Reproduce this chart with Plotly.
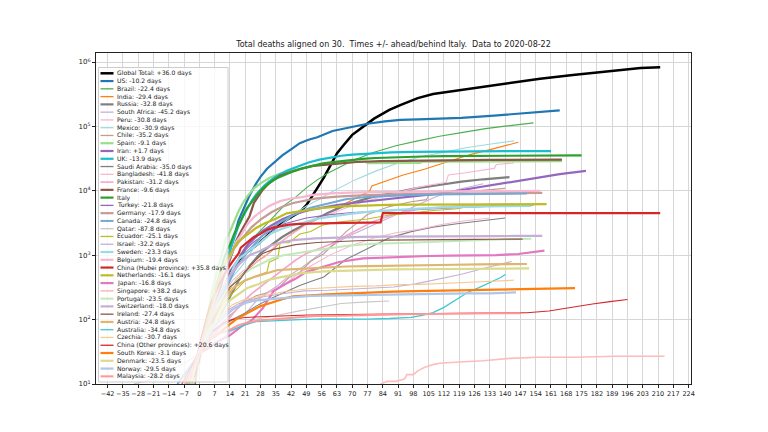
import plotly.graph_objects as go

# ---- data: (days since reaching 30 deaths, cumulative deaths) ----
GLOBAL = [(-3,12),(0,30),(5,100),(10,250),(15,600),(20,1000),(27,1500),(33,2300),(38,3200),(42,3900),(46,4700),(49,6000),(52,8500),(54,11000),(57,16000),(59,21000),(61,28000),(63,38000),(66,51000),(68,62000),(70,74000),(73,88000),(77,112000),(80,132000),(83,151000),(87,180000),(92,214000),(96,245000),(100,275000),(107,318000),(115,347000),(125,385000),(141,468000),(156,550000),(171,630000),(187,724000),(202,805000),(211,830000)]
US = [(-6,11),(-2,21),(0,30),(2,45),(5,80),(7,140),(9,260),(11,500),(13,900),(16,2000),(18,3500),(20,5000),(23,8500),(26,13000),(28,16500),(31,22000),(34,27000),(38,35500),(42,44000),(46,55000),(50,62000),(54,68000),(61,85000),(68,95000),(72,100000),(77,110000),(85,120000),(92,126000),(100,129000),(110,131000),(120,136000),(135,147000),(150,160000),(165,178000)]
BRAZIL = [(-2,11),(-1,15),(0,25),(1,34),(3,59),(6,114),(9,201),(14,486),(19,1057),(24,1760),(29,2600),(34,4000),(39,6000),(44,7900),(49,11100),(54,14800),(59,18900),(64,23000),(70,29300),(80,39700),(90,50000),(100,59600),(110,70400),(120,80100),(131,92500),(141,101800),(153,113400)]
INDIA = [(-5,10),(-2,20),(0,30),(4,56),(7,109),(12,239),(17,420),(22,590),(27,826),(32,1075),(37,1568),(42,2109),(47,2752),(52,3435),(57,4167),(63,5394),(68,6642),(73,8102),(78,9900),(79,11903),(80,12237),(83,13254),(93,17400),(103,21600),(113,27500),(124,36500),(134,44400),(146,56700)]
RUSSIA = [(-4,10),(-2,17),(0,30),(3,45),(8,94),(13,198),(18,405),(23,681),(28,1073),(33,1451),(38,1915),(43,2418),(48,2972),(53,3541),(59,4555),(69,6358),(79,7972),(89,9300),(99,10900),(109,12200),(120,13900),(130,15100),(142,16300)]
SAFRICA = [(-9,11),(-4,19),(0,30),(6,58),(11,88),(16,103),(21,123),(26,194),(31,261),(36,339),(41,481),(47,643),(57,1162),(67,1877),(77,2657),(87,3860),(97,5368),(108,8005),(118,10408),(130,12843)]
PERU = [(-4,11),(0,30),(5,83),(10,193),(15,400),(20,572),(25,728),(30,943),(35,1444),(40,1889),(45,2392),(50,3148),(55,3788),(61,4506),(71,6088),(81,7660),(91,9317),(101,11500),(111,13187),(113,13579),(114,17654),(122,19021),(132,21501),(135,22300),(136,25648),(144,27034)]
MEXICO = [(-4,10),(-1,28),(0,30),(5,94),(10,233),(15,449),(20,712),(25,1305),(30,1859),(35,2507),(40,3465),(45,4767),(50,6090),(55,7394),(61,9779),(71,14649),(81,20394),(91,27121),(101,33526),(111,39184),(122,46688),(132,52298),(144,59610)]
CHILE = [(-3,12),(-1,22),(0,30),(6,57),(11,94),(16,133),(21,189),(26,234),(31,260),(36,304),(41,450),(46,544),(51,806),(57,1054),(67,2283),(77,4295),(87,5688),(97,6781),(104,7290),(105,8503),(118,9457),(128,10077),(140,10916)]
SPAIN = [(-2,10),(-1,17),(0,28),(1,35),(3,84),(5,195),(6,288),(8,533),(10,1002),(12,1720),(14,2311),(16,3434),(18,4858),(20,6528),(22,8189),(25,10935),(28,13055),(32,15843),(37,18579),(42,20453),(47,22524),(52,24543),(62,26621),(72,27778),(76,28752),(77,26834),(101,27136),(102,28315),(120,28400),(140,28500),(166,28838)]
IRAN = [(-4,8),(-3,12),(-2,16),(-1,19),(0,26),(1,34),(3,54),(5,77),(7,107),(9,145),(11,237),(13,354),(15,514),(17,724),(19,988),(21,1284),(23,1556),(25,1812),(27,2077),(29,2378),(33,2898),(38,3603),(43,4232),(48,4777),(53,5209),(58,5650),(63,6028),(73,6640),(83,7183),(94,7878),(104,8659),(114,9507),(124,10817),(134,12305),(144,13979),(155,16147),(165,18132),(177,20376)]
UK = [(-4,10),(0,30),(2,60),(4,100),(6,180),(8,290),(10,470),(12,750),(14,1200),(16,1800),(18,2900),(20,4000),(22,5400),(24,7000),(26,8800),(28,10600),(30,12300),(32,14000),(35,16500),(40,20500),(45,24000),(50,27500),(55,30500),(60,33000),(65,35000),(70,36500),(78,38000),(88,39500),(98,40300),(110,40800),(125,41100),(140,41300),(161,41405)]
SAUDI = [(-6,10),(-2,25),(0,35),(1,41),(6,65),(11,83),(16,103),(21,127),(26,162),(31,200),(36,239),(41,283),(46,339),(51,390),(57,458),(67,857),(77,1267),(87,1858),(97,2325),(107,2733),(118,3080),(128,3369),(140,3785)]
BANGLADESH = [(-5,10),(-3,17),(-1,27),(0,30),(4,50),(9,101),(14,140),(19,163),(24,199),(29,228),(34,298),(39,349),(44,480),(50,650),(60,1012),(70,1425),(80,1847),(90,2238),(100,2496),(111,3000),(121,3399),(133,3781)]
PAKISTAN = [(-6,10),(-3,18),(0,30),(3,41),(9,71),(14,107),(19,176),(24,253),(29,343),(34,462),(39,636),(44,834),(49,1067),(54,1225),(60,1483),(70,2255),(80,3382),(90,4395),(100,5123),(110,5568),(121,5892),(131,6097),(144,6255)]
FRANCE = [(-3,9),(-1,19),(0,25),(1,33),(3,61),(5,91),(7,148),(9,264),(11,450),(13,674),(15,1100),(17,1696),(19,2314),(21,3024),(23,4032),(25,6507),(27,8078),(29,10328),(32,13197),(37,17167),(42,19718),(47,22245),(52,24376),(62,26380),(72,28022),(83,28802),(93,29296),(103,29640),(113,29843),(123,30004),(133,30165),(144,30265),(154,30340),(166,30512)]
ITALY = [(-4,10),(-3,12),(-2,17),(-1,21),(0,29),(1,34),(2,52),(3,79),(4,107),(5,148),(6,197),(7,233),(8,366),(9,463),(10,631),(11,827),(12,1016),(13,1266),(14,1441),(15,1809),(16,2158),(17,2503),(18,2978),(19,3405),(20,4032),(21,4825),(22,5476),(23,6077),(24,6820),(25,7503),(26,8165),(27,9134),(28,10023),(30,11591),(32,13155),(34,14681),(36,15887),(39,17669),(42,19468),(46,21645),(51,24114),(56,26384),(61,27967),(66,29315),(71,30560),(76,31610),(81,32330),(86,32877),(92,33415),(102,34114),(112,34634),(122,34767),(132,34926),(142,35058),(153,35146),(163,35215),(175,35427)]
TURKEY = [(-2,9),(-1,21),(0,30),(1,37),(3,59),(6,108),(9,214),(14,574),(19,1006),(24,1518),(29,2017),(34,2491),(39,3081),(49,3786),(59,4222),(70,4609),(80,4778),(90,4974),(100,5167),(110,5323),(120,5475),(131,5691),(141,5829),(153,6039)]
GERMANY = [(-3,12),(-1,24),(0,28),(1,44),(2,67),(4,94),(6,157),(8,267),(10,433),(12,645),(14,920),(16,1275),(18,1584),(21,2107),(24,2736),(28,3569),(33,4642),(38,5640),(43,6467),(53,7549),(63,8147),(74,8500),(84,8735),(94,8882),(104,8973),(114,9064),(124,9089),(135,9148),(145,9196),(157,9269)]
CANADA = [(-5,12),(-2,21),(0,28),(1,35),(3,60),(6,101),(11,259),(16,569),(21,1010),(26,1587),(31,2350),(36,3082),(41,3854),(46,4693),(51,5472),(56,6031),(61,6569),(67,7395),(77,8049),(87,8430),(97,8628),(107,8790),(117,8860),(128,8944),(138,9004),(150,9083)]
QATAR = [(-30,10),(-21,12),(-15,15),(-8,20),(-1,28),(0,30),(5,36),(14,64),(24,99),(34,113),(44,133),(54,152),(65,178),(75,187),(87,194)]
ECUADOR = [(-5,10),(-2,18),(0,30),(2,41),(6,93),(11,180),(16,272),(21,403),(26,474),(31,550),(32,780),(36,900),(37,1560),(41,1570),(46,2130),(51,2340),(56,2890),(61,3200),(67,3360),(77,3640),(87,4220),(97,4500),(107,4940),(117,5210),(121,5530),(128,5700),(138,5880),(150,6100)]
ISRAEL = [(-6,10),(-2,20),(0,30),(3,44),(8,95),(13,140),(18,177),(23,202),(28,222),(38,252),(48,279),(59,285),(69,298),(79,306),(89,320),(99,359),(109,421),(120,506),(130,621),(143,800)]
SWEDEN = [(-5,10),(-3,16),(-1,21),(0,28),(1,36),(3,62),(5,102),(8,180),(11,333),(13,401),(16,687),(18,870),(23,1203),(28,1580),(33,2194),(38,2586),(43,2941),(48,3220),(53,3646),(58,3871),(63,4125),(69,4395),(79,4795),(89,5053),(99,5333),(109,5500),(119,5619),(130,5743),(140,5766),(152,5810)]
BELGIUM = [(-3,8),(-1,14),(0,21),(1,37),(3,75),(5,122),(7,220),(9,353),(11,513),(13,828),(15,1143),(17,1632),(19,2035),(22,3019),(25,3903),(27,4440),(32,5828),(37,6917),(42,7594),(47,7987),(52,8656),(57,9005),(62,9186),(73,9467),(83,9619),(93,9696),(103,9747),(113,9782),(123,9800),(134,9845),(144,9870),(156,9989)]
HUBEI = [(-3,10),(-2,17),(-1,24),(0,39),(1,52),(2,76),(3,100),(4,125),(5,162),(6,204),(7,249),(9,350),(11,479),(13,618),(15,780),(17,974),(18,1068),(19,1310),(22,1596),(25,1921),(28,2144),(31,2495),(34,2682),(37,2803),(41,2986),(46,3056),(51,3099),(56,3132),(67,3186),(77,3212),(83,3222),(84,4512),(211,4512)]
NETHERLANDS = [(-4,10),(-2,20),(0,28),(1,43),(2,58),(4,106),(6,179),(8,356),(10,546),(12,771),(14,1039),(16,1339),(18,1651),(20,1867),(23,2255),(26,2653),(30,3134),(35,3684),(40,4475),(45,4795),(55,5359),(65,5715),(76,5962),(86,6042),(96,6089),(106,6113),(116,6156),(126,6160),(137,6147),(147,6166),(159,6211)]
JAPAN = [(-10,10),(-5,17),(0,29),(8,45),(14,57),(19,77),(24,98),(29,149),(34,277),(39,351),(44,430),(49,551),(54,621),(59,687),(64,784),(75,892),(85,919),(95,955),(105,972),(115,982),(125,986),(136,1006),(146,1045),(158,1180)]
SINGAPORE = [(83,10),(86,11),(90,11),(94,12),(95,14),(98,14),(100,16),(103,18),(107,20),(110,21),(119,22),(130,23),(142,25),(155,26),(173,26),(190,27),(213,27)]
PORTUGAL = [(-3,10),(-2,12),(-1,14),(0,23),(1,33),(3,60),(5,100),(8,160),(13,295),(18,435),(23,599),(28,735),(33,880),(38,989),(48,1126),(58,1263),(69,1410),(79,1504),(89,1530),(99,1576),(109,1646),(119,1689),(130,1735),(140,1764),(152,1796)]
SWITZERLAND = [(-5,11),(-2,19),(-1,27),(0,33),(2,56),(4,80),(6,120),(8,192),(10,264),(13,433),(18,715),(23,1002),(28,1174),(33,1429),(38,1589),(43,1716),(53,1830),(63,1892),(74,1920),(84,1938),(94,1956),(104,1962),(114,1968),(124,1969),(135,1981),(145,1991),(157,1995)]
IRELAND = [(-2,9),(-1,19),(0,22),(1,36),(4,71),(9,158),(14,320),(19,444),(24,730),(29,1063),(34,1232),(44,1458),(54,1571),(65,1650),(75,1695),(85,1714),(95,1736),(105,1746),(115,1753),(126,1763),(136,1772),(148,1777)]
AUSTRIA = [(-4,10),(-3,16),(-1,21),(0,30),(1,34),(3,58),(6,108),(11,204),(16,319),(21,410),(26,470),(31,530),(36,589),(46,615),(56,640),(67,668),(77,677),(87,688),(97,705),(107,706),(117,711),(128,718),(138,721),(150,730)]
AUSTRALIA = [(-10,10),(-7,14),(-4,19),(-2,23),(0,30),(1,35),(6,54),(11,63),(16,71),(21,83),(26,93),(36,97),(46,100),(57,103),(67,102),(77,102),(87,104),(97,108),(102,116),(107,128),(112,155),(118,208),(123,266),(128,314),(133,375),(138,450),(140,502)]
CZECHIA = [(-4,10),(-2,17),(0,31),(5,67),(10,119),(15,169),(20,201),(25,220),(30,236),(40,276),(50,302),(61,317),(71,328),(81,334),(91,349),(101,353),(111,362),(122,382),(132,391),(144,410)]
CHINA_OTHER = [(-8,10),(-4,18),(0,30),(3,45),(6,65),(9,80),(12,92),(15,100),(20,107),(25,110),(30,112),(40,116),(50,118),(67,120),(90,122),(120,125),(141,127),(150,128),(160,136),(165,145),(172,160),(180,175),(188,190),(196,205)]
SKOREA = [(-7,11),(-6,12),(-4,13),(-3,17),(-2,21),(-1,28),(0,32),(2,35),(4,48),(7,54),(12,75),(17,102),(22,126),(28,162),(33,183),(38,208),(43,229),(48,237),(53,240),(58,247),(68,256),(78,264),(89,272),(99,276),(109,280),(119,282),(129,288),(139,297),(150,301),(160,305),(172,309)]
DENMARK = [(-4,9),(-3,13),(-1,24),(0,32),(2,41),(4,65),(7,90),(12,179),(17,237),(22,309),(27,355),(32,418),(37,452),(47,526),(57,561),(68,580),(78,593),(88,603),(98,605),(108,609),(118,611),(129,615),(139,617),(151,623)]
NORWAY = [(-6,10),(-4,14),(-2,20),(0,32),(2,39),(6,71),(11,108),(16,150),(21,182),(26,199),(31,207),(41,219),(51,233),(62,237),(72,239),(82,244),(92,249),(102,251),(112,255),(123,255),(133,256),(145,264)]
MALAYSIA = [(-6,10),(-4,14),(-2,20),(0,27),(1,34),(3,43),(8,61),(13,67),(18,82),(23,92),(28,98),(33,100),(43,107),(53,114),(64,115),(74,118),(84,121),(94,121),(104,122),(114,124),(125,125),(135,125),(147,125)]

SERIES = [GLOBAL, US, BRAZIL, INDIA, RUSSIA, SAFRICA, PERU, MEXICO, CHILE, SPAIN,
          IRAN, UK, SAUDI, BANGLADESH, PAKISTAN, FRANCE, ITALY, TURKEY, GERMANY, CANADA,
          QATAR, ECUADOR, ISRAEL, SWEDEN, BELGIUM, HUBEI, NETHERLANDS, JAPAN, SINGAPORE, PORTUGAL,
          SWITZERLAND, IRELAND, AUSTRIA, AUSTRALIA, CZECHIA, CHINA_OTHER, SKOREA, DENMARK, NORWAY, MALAYSIA]

LABELS = ["Global Total: +36.0 days", "US: -10.2 days", "Brazil: -22.4 days", "India: -29.4 days",
          "Russia: -32.8 days", "South Africa: -45.2 days", "Peru: -30.8 days", "Mexico: -30.9 days",
          "Chile: -35.2 days", "Spain: -9.1 days", "Iran: +1.7 days", "UK: -13.9 days",
          "Saudi Arabia: -35.0 days", "Bangladesh: -41.8 days", "Pakistan: -31.2 days", "France: -9.6 days",
          "Italy", "Turkey: -21.8 days", "Germany: -17.9 days", "Canada: -24.8 days",
          "Qatar: -87.8 days", "Ecuador: -25.1 days", "Israel: -32.2 days", "Sweden: -23.3 days",
          "Belgium: -19.4 days", "China (Hubei province): +35.8 days", "Netherlands: -16.1 days", "Japan: -16.8 days",
          "Singapore: +38.2 days", "Portugal: -23.5 days", "Switzerland: -18.0 days", "Ireland: -27.4 days",
          "Austria: -24.8 days", "Australia: -34.8 days", "Czechia: -30.7 days", "China (Other provinces): +20.6 days",
          "South Korea: -3.1 days", "Denmark: -23.5 days", "Norway: -29.5 days", "Malaysia: -28.2 days"]

COLORS = ["#000000", "#1f77b4", "#4caf50", "#ff7f0e", "#7f7f7f", "#c5b0d5", "#f7b6d2", "#9edae5",
          "#c49c94", "#98df8a", "#9467bd", "#17becf", "#7f7f7f", "#f7b6d2", "#f4a6cb", "#8c564b",
          "#2ca02c", "#9467bd", "#c49c94", "#72a9d6", "#c7c7c7", "#bcbd22", "#c5b0d5", "#9edae5",
          "#f7b6d2", "#d62728", "#bcbd22", "#e377c2", "#ffbcbc", "#c3e9b9", "#c5b0d5", "#8c564b",
          "#deb66f", "#3cc8d8", "#f5c993", "#d62728", "#ff7f0e", "#dbdb8d", "#aec7e8", "#ff9896"]

WIDTHS = [2.5, 2.2, 1.1, 1.1, 2.2, 1.1, 1.1, 1.1, 1.1, 2.2,
          2.2, 2.2, 1.1, 1.1, 1.6, 2.2, 2.2, 1.1, 2.2, 2.0,
          1.1, 1.1, 1.1, 2.2, 2.2, 2.2, 2.2, 2.2, 1.6, 2.0,
          2.2, 1.1, 2.2, 1.3, 1.1, 1.1, 2.2, 2.2, 2.2, 2.0]

TITLE = "Total deaths aligned on 30.  Times +/- ahead/behind Italy.  Data to 2020-08-22"
FONT = "DejaVu Sans"

fig = go.Figure()
# plotted in legend order: later series are drawn on top
for pts, name, col, w in zip(SERIES, LABELS, COLORS, WIDTHS):
    fig.add_trace(go.Scatter(
        x=[p[0] for p in pts], y=[p[1] for p in pts], mode="lines", name=name,
        line=dict(color=col, width=w), hoverinfo="skip", showlegend=False))

# ---- layout geometry (pixels) ----
W, H = 768, 432
ML, MR, MT, MB = 96, 77, 53, 48
PW, PH = W - ML - MR, H - MT - MB

def xp(px):
    return (px - ML) / PW

def yp(py):
    return (H - MB - py) / PH

shapes = []
annotations = []
# legend frame
shapes.append(dict(type="rect", xref="paper", yref="paper", layer="above",
                   x0=xp(98.5), x1=xp(228), y0=yp(382), y1=yp(67.5),
                   fillcolor="rgba(255,255,255,0.8)", line=dict(color="#cccccc", width=1)))
ENTRY_TOP, ENTRY_STEP = 73.3, 7.77
for i, (name, col, w) in enumerate(zip(LABELS, COLORS, WIDTHS)):
    py = ENTRY_TOP + ENTRY_STEP * i
    shapes.append(dict(type="line", xref="paper", yref="paper", layer="above",
                       x0=xp(100.5), x1=xp(113.5), y0=yp(py), y1=yp(py),
                       line=dict(color=col, width=max(w, 1.3))))
    annotations.append(dict(xref="paper", yref="paper", x=xp(116), y=yp(py),
                            xanchor="left", yanchor="middle", showarrow=False,
                            text=name, font=dict(family=FONT, size=6.1, color="#1a1a1a"),
                            borderpad=0))

fig.update_layout(
    width=W, height=H,
    margin=dict(l=ML, r=MR, t=MT, b=MB),
    paper_bgcolor="white", plot_bgcolor="white",
    title=dict(text=TITLE, x=0.5, xref="paper", xanchor="center", y=1 - 44 / H, yanchor="middle",
               font=dict(family=FONT, size=8, color="#1a1a1a")),
    font=dict(family=FONT, size=6.5, color="#1a1a1a"),
    shapes=shapes, annotations=annotations,
    showlegend=False,
)
fig.update_xaxes(range=[-47.3, 225.1], tickmode="linear", tick0=0, dtick=7, tickangle=0,
                 showgrid=True, gridcolor="#d6d6d6", gridwidth=1, zeroline=False,
                 showline=True, linecolor="#222222", linewidth=1, mirror=True,
                 ticks="outside", ticklen=3, tickcolor="#222222",
                 tickfont=dict(family=FONT, size=6.5, color="#1a1a1a"))
YT = [10, 100, 1000, 10000, 100000, 1000000]
YT_TEXT = ["10<sup>1</sup>", "10<sup>2</sup>", "10<sup>3</sup>", "10<sup>4</sup>", "10<sup>5</sup>", "10<sup>6</sup>"]
fig.update_yaxes(type="log", range=[1, 6.14], tickmode="array", tickvals=YT, ticktext=YT_TEXT,
                 showgrid=True, gridcolor="#d6d6d6", gridwidth=1, zeroline=False,
                 showline=True, linecolor="#222222", linewidth=1, mirror=True,
                 ticks="outside", ticklen=3, tickcolor="#222222",
                 tickfont=dict(family=FONT, size=7, color="#1a1a1a"))

fig.write_html("out.html")
